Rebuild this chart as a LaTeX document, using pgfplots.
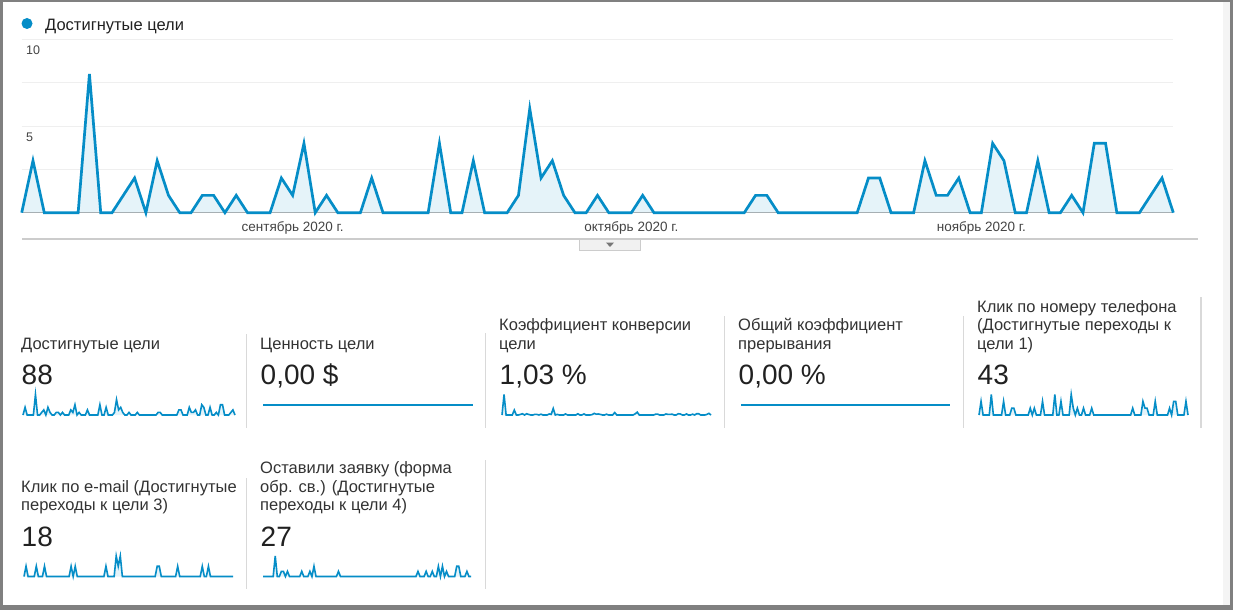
\documentclass[border=0pt]{standalone}
\usepackage{fontspec}
\setmainfont{Liberation Sans}
\usepackage{pgfplots}
\usepackage{pgfplotstable}
\pgfplotsset{compat=1.18}

\definecolor{gablue}{HTML}{058DC7}
\definecolor{gafill}{HTML}{E5F3F9}
\definecolor{gridc}{HTML}{EFEFEF}
\definecolor{sepc}{HTML}{D9D9D9}
\definecolor{framec}{HTML}{808080}
\definecolor{stripc}{HTML}{F4F4F4}
\definecolor{titlec}{HTML}{333333}
\definecolor{valc}{HTML}{212121}
\definecolor{tickc}{HTML}{444444}
\definecolor{lgray}{HTML}{CCCCCC}
\definecolor{btnc}{HTML}{F1F1F1}
\definecolor{arrc}{HTML}{777777}

\newcommand{\tfont}{\fontsize{16.5}{18.5}\selectfont}
\newcommand{\vfont}{\fontsize{28}{32}\selectfont}

\pgfplotstableread{
d main phone email form conv
0 0 0 0 0 0
1 3 2 1 0 10
2 0 0 0 0 0
3 0 0 0 0 0
4 0 0 0 0 0
5 0 0 0 0 0
6 8 3 1 4 2.4
7 0 0 0 0 0
8 0 0 0 0 0
9 1 0 0 1 0.3
10 2 0 1 1 0.6
11 0 0 0 0 0
12 3 2 0 1 0.6
13 1 0 0 0 0.3
14 0 0 0 0 0
15 0 0 0 0 0
16 1 1 0 0 0.3
17 1 1 0 0 0.3
18 0 0 0 0 0
19 1 0 0 1 0.4
20 0 0 0 0 0
21 0 0 0 0 0
22 0 0 0 0 0
23 2 0 1 1 0.5
24 1 0 0 0 0.3
25 4 1 1 2 3.2
26 0 0 0 0 0
27 1 1 0 0 0.3
28 0 0 0 0 0
29 0 0 0 0 0
30 0 0 0 0 0
31 2 2 0 0 0.5
32 0 0 0 0 0
33 0 0 0 0 0
34 0 0 0 0 0
35 0 0 0 0 0
36 0 0 0 0 0
37 4 3 0 1 0.6
38 0 0 0 0 0
39 0 0 0 0 0
40 3 2 1 0 0.5
41 0 0 0 0 0
42 0 0 0 0 0
43 0 0 0 0 0
44 1 0 0 0 0.2
45 6 3 2 0 0.8
46 2 1 1 0 0.4
47 3 0 2 0 0.5
48 1 1 0 0 0.3
49 0 0 0 0 0
50 0 0 0 0 0
51 1 1 0 0 0.4
52 0 0 0 0 0
53 0 0 0 0 0
54 0 0 0 0 0
55 1 1 0 0 1.2
56 0 0 0 0 0
57 0 0 0 0 0
58 0 0 0 0 0
59 0 0 0 0 0
60 0 0 0 0 0
61 0 0 0 0 0
62 0 0 0 0 0
63 0 0 0 0 0
64 0 0 0 0 0
65 1 0 1 0 0.6
66 1 0 1 0 1.4
67 0 0 0 0 0
68 0 0 0 0 0
69 0 0 0 0 0
70 0 0 0 0 0
71 0 0 0 0 0
72 0 0 0 0 0
73 0 0 0 0 0
74 0 0 0 0 0
75 2 1 1 0 0.4
76 2 0 0 1 0.4
77 0 0 0 0 0
78 0 0 0 0 0
79 0 0 0 0 0
80 3 2 0 1 0.5
81 1 1 0 0 0.3
82 1 1 0 0 0.3
83 2 0 0 1 0.4
84 0 0 0 0 0
85 0 0 0 0 0
86 4 2 0 2 0.6
87 3 0 1 0 0.5
88 0 0 0 2 0
89 0 0 0 0 0
90 3 0 1 1 0.5
91 0 0 0 0 0
92 0 0 0 0 0
93 1 1 0 0 0.4
94 0 0 0 0 0
95 4 2 0 2 0.6
96 4 2 0 2 0.6
97 0 0 0 0 0
98 0 0 0 0 0
99 0 0 0 0 0
100 1 0 0 1 0.3
101 2 2 0 0 0.8
102 0 0 0 0 0
}\gadata

\pgfplotstableread{
d z
0 0
102 0
}\flatdata

\pgfplotsset{
  spark/.style={anchor=south west, scale only axis, width=#1, height=20.5pt,
    hide axis, xmin=0, xmax=102, ymin=0, clip=false, enlargelimits=false},
  sline/.style={gablue, line width=1.6pt},
  sfill/.style={draw=none, fill=gafill},
}

\begin{document}
\begin{tikzpicture}
\useasboundingbox (0,0) rectangle (1233pt,-610pt);
\fill[white] (0,0) rectangle (1233pt,-610pt);
\fill[stripc] (1223pt,0) rectangle (1229.5pt,-605pt);
\fill[framec] (0,0) rectangle (3pt,-610pt);
\fill[framec] (0,0) rectangle (1233pt,-2pt);
\fill[framec] (0,-605pt) rectangle (1233pt,-610pt);
\fill[framec] (1229.5pt,0) rectangle (1233pt,-610pt);

% legend
\fill[gablue] (27pt,-23.5pt) circle (5.5pt);
\node[anchor=base west, inner sep=0pt, font=\tfont, text=valc] at (45pt,-30.7pt) {Достигнутые цели};

% main chart
\begin{axis}[at={(21.7pt,-212.7pt)}, anchor=south west,
  scale only axis, width=1151.6pt, height=173.4pt,
  xmin=0, xmax=102, ymin=0, ymax=10, enlargelimits=false,
  axis line style={draw=none}, major tick length=0pt,
  ytick={2.5,5,7.5,10}, yticklabels={,5,,10},
  ymajorgrids, major grid style={draw=gridc, line width=0.9pt},
  yticklabel style={anchor=north west, inner sep=0pt, xshift=4.3pt, yshift=-6.5pt,
    font=\fontsize{12.5}{14}\selectfont, text=tickc},
  xtick={24,54,85},
  xticklabels={сентябрь 2020 г., октябрь 2020 г., ноябрь 2020 г.},
  xticklabel style={anchor=base, inner sep=0pt, yshift=-19pt,
    font=\fontsize{13.5}{15}\selectfont, text=tickc},
  extra y ticks={0}, extra y tick labels={},
  extra y tick style={ymajorgrids, major grid style={draw=black!80, line width=1pt}},
  clip=false]
\addplot[draw=none, fill=gafill] table[x=d, y=main]{\gadata} \closedcycle;
\addplot[gablue, line width=2.7pt] table[x=d, y=main]{\gadata};
\end{axis}

% lower line and button
\draw[lgray, line width=1.2pt] (22pt,-239pt) -- (1197.5pt,-239pt);
\filldraw[fill=btnc, draw=lgray, line width=0.8pt] (579.3pt,-239pt) rectangle (640.7pt,-250.5pt);
\fill[arrc] (605.8pt,-242.5pt) -- (614.2pt,-242.5pt) -- (610pt,-246.8pt) -- cycle;

% ===== Row 1 =====
% card 1
\node[anchor=base west, inner sep=0pt, font=\tfont, text=titlec] at (21pt,-349pt) {Достигнутые цели};
\node[anchor=base west, inner sep=0pt, font=\vfont, text=valc] at (21.5pt,-384.5pt) {88};
\begin{axis}[spark=212pt, at={(23pt,-415pt)}, ymax=8]
\addplot[sfill] table[x=d, y=main]{\gadata} \closedcycle;
\addplot[sline] table[x=d, y=main]{\gadata};
\end{axis}
\draw[sepc, line width=1.3pt] (246.5pt,-334pt) -- (246.5pt,-428pt);

% card 2
\node[anchor=base west, inner sep=0pt, font=\tfont, text=titlec] at (260pt,-349pt) {Ценность цели};
\node[anchor=base west, inner sep=0pt, font=\vfont, text=valc] at (260.5pt,-384.5pt) {0,00 \$};
\begin{axis}[spark=210pt, at={(263pt,-415pt)}, ymin=-1, ymax=1]
\addplot[gablue, line width=2.2pt] table[x=d, y=z]{\flatdata};
\end{axis}
\draw[sepc, line width=1.3pt] (485.5pt,-333pt) -- (485.5pt,-428pt);

% card 3
\node[anchor=base west, inner sep=0pt, font=\tfont, text=titlec] at (499pt,-330.5pt) {Коэффициент конверсии};
\node[anchor=base west, inner sep=0pt, font=\tfont, text=titlec] at (499pt,-349pt) {цели};
\node[anchor=base west, inner sep=0pt, font=\vfont, text=valc] at (499.5pt,-384.5pt) {1,03 \%};
\begin{axis}[spark=209pt, at={(502pt,-415pt)}, ymax=10]
\addplot[sfill] table[x=d, y=conv]{\gadata} \closedcycle;
\addplot[sline] table[x=d, y=conv]{\gadata};
\end{axis}
\draw[sepc, line width=1.3pt] (724.5pt,-316pt) -- (724.5pt,-428pt);

% card 4
\node[anchor=base west, inner sep=0pt, font=\tfont, text=titlec] at (738pt,-330.5pt) {Общий коэффициент};
\node[anchor=base west, inner sep=0pt, font=\tfont, text=titlec] at (738pt,-349pt) {прерывания};
\node[anchor=base west, inner sep=0pt, font=\vfont, text=valc] at (738.5pt,-384.5pt) {0,00 \%};
\begin{axis}[spark=209pt, at={(741pt,-415pt)}, ymin=-1, ymax=1]
\addplot[gablue, line width=2.2pt] table[x=d, y=z]{\flatdata};
\end{axis}
\draw[sepc, line width=1.3pt] (963.5pt,-316pt) -- (963.5pt,-428pt);

% card 5
\node[anchor=base west, inner sep=0pt, font=\tfont, text=titlec] at (977pt,-312pt) {Клик по номеру телефона};
\node[anchor=base west, inner sep=0pt, font=\tfont, text=titlec] at (977pt,-330.5pt) {(Достигнутые переходы к};
\node[anchor=base west, inner sep=0pt, font=\tfont, text=titlec] at (977pt,-349pt) {цели 1)};
\node[anchor=base west, inner sep=0pt, font=\vfont, text=valc] at (977.5pt,-384.5pt) {43};
\begin{axis}[spark=209pt, at={(979pt,-415pt)}, ymax=3]
\addplot[sfill] table[x=d, y=phone]{\gadata} \closedcycle;
\addplot[sline] table[x=d, y=phone]{\gadata};
\end{axis}
\draw[sepc, line width=1.3pt] (1201pt,-297pt) -- (1201pt,-428pt);

% ===== Row 2 =====
% card 6
\node[anchor=base west, inner sep=0pt, font=\tfont, text=titlec] at (21pt,-492pt) {Клик по e-mail (Достигнутые};
\node[anchor=base west, inner sep=0pt, font=\tfont, text=titlec] at (21pt,-510.5pt) {переходы к цели 3)};
\node[anchor=base west, inner sep=0pt, font=\vfont, text=valc] at (21.5pt,-546.7pt) {18};
\begin{axis}[spark=209pt, at={(24pt,-576.5pt)}, ymax=2]
\addplot[sfill] table[x=d, y=email]{\gadata} \closedcycle;
\addplot[sline] table[x=d, y=email]{\gadata};
\end{axis}
\draw[sepc, line width=1.3pt] (246.5pt,-478pt) -- (246.5pt,-589pt);

% card 7
\node[anchor=base west, inner sep=0pt, font=\tfont, text=titlec] at (260pt,-473.5pt) {Оставили заявку (форма};
\node[anchor=base west, inner sep=0pt, font=\tfont, text=titlec] at (260pt,-492pt) {обр. св.) (Достигнутые};
\node[anchor=base west, inner sep=0pt, font=\tfont, text=titlec] at (260pt,-510.5pt) {переходы к цели 4)};
\node[anchor=base west, inner sep=0pt, font=\vfont, text=valc] at (260.5pt,-546.7pt) {27};
\begin{axis}[spark=208pt, at={(263pt,-576.5pt)}, ymax=4]
\addplot[sfill] table[x=d, y=form]{\gadata} \closedcycle;
\addplot[sline] table[x=d, y=form]{\gadata};
\end{axis}
\draw[sepc, line width=1.3pt] (485.5pt,-460pt) -- (485.5pt,-589pt);

\end{tikzpicture}
\end{document}
